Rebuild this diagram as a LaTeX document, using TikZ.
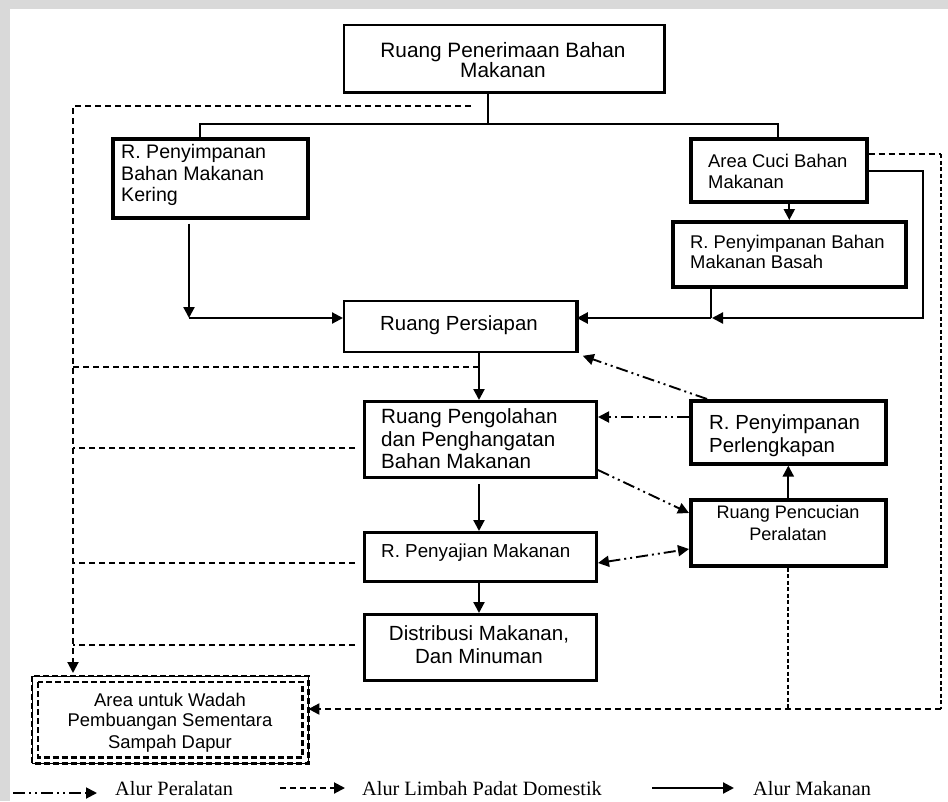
\documentclass[tikz,border=0pt]{standalone}
\usepackage{fontspec}
\setmainfont{Liberation Serif}
\newfontfamily\boxfont{Liberation Sans}
\usetikzlibrary{arrows.meta,calc}
\definecolor{bggray}{RGB}{217,217,217}
\begin{document}
\begin{tikzpicture}[x=1pt,y=-1pt,
  bx/.style={draw, anchor=north west, inner sep=0pt},
  tl/.style={font=\boxfont\fontsize{#1}{#1}\selectfont, inner sep=0pt, anchor=base west},
  tc/.style={font=\boxfont\fontsize{#1}{#1}\selectfont, inner sep=0pt, anchor=base},
  lg/.style={font=\fontsize{20.3}{22}\selectfont, inner sep=0pt, anchor=base west},
  tipA/.style={-{Triangle[length=11pt,width=11pt]}},
  plain/.style={line width=1.6pt},
  food/.style={line width=2.2pt, tipA},
  foodline/.style={line width=2pt},
  waste/.style={line width=2pt, dash pattern=on 6pt off 4pt},
  wastefine/.style={line width=2.2pt, dash pattern=on 4pt off 2.5pt},
  equip/.style={line width=1.9pt, dash pattern=on 12pt off 4pt on 2pt off 4pt on 2pt off 4pt},
  sampahline/.style={line width=2.6pt, dash pattern=on 6pt off 3pt}
]
\fill[bggray] (0,0) rectangle (948,801);
\fill[white] (10,9) rectangle (948,801);
\useasboundingbox (0,0) rectangle (948,801);

% ---------- boxes ----------
\node[bx, line width=1.6pt, minimum width=320pt, minimum height=67pt] (pen) at (343,24) {};
\draw[line width=3.6pt] (pen.north east) -- (pen.south east) -- (pen.south west);
\node[tc=20.8] (penT1) at (503,57) {Ruang Penerimaan Bahan};
\node[tc=20.8] (penT2) at (503,77) {Makanan};

\node[bx, line width=3.6pt, minimum width=195pt, minimum height=79pt] (ker) at (111,137) {};
\node[tl=19.6] (kerT1) at (121,158) {R. Penyimpanan};
\node[tl=19.6] (kerT2) at (121,180) {Bahan Makanan};
\node[tl=19.6] (kerT3) at (121,201) {Kering};

\node[bx, line width=3.6pt, minimum width=176pt, minimum height=63pt] (cuci) at (689,137) {};
\node[tl=18.4] (cuciT1) at (708,167) {Area Cuci Bahan};
\node[tl=18.4] (cuciT2) at (708,188) {Makanan};

\node[bx, line width=3.6pt, minimum width=233pt, minimum height=65pt] (basah) at (671,220) {};
\node[tl=18.4] (basahT1) at (690,248) {R. Penyimpanan Bahan};
\node[tl=18.4] (basahT2) at (690,268) {Makanan Basah};

\node[bx, line width=1.8pt, minimum width=232pt, minimum height=51pt] (pers) at (343,300) {};
\draw[line width=3.6pt] (pers.north east) -- (pers.south east);
\node[tc=20.4] (persT) at (459,330) {Ruang Persiapan};

\node[bx, line width=3pt, minimum width=232pt, minimum height=76pt] (olah) at (363,400) {};
\node[tl=20.6] (olahT1) at (381,423) {Ruang Pengolahan};
\node[tl=20.6] (olahT2) at (381,446) {dan Penghangatan};
\node[tl=20.6] (olahT3) at (381,468) {Bahan Makanan};

\node[bx, line width=3pt, minimum width=232pt, minimum height=49pt] (saji) at (363,531) {};
\node[tl=18.8] (sajiT) at (381,557) {R. Penyajian Makanan};

\node[bx, line width=3pt, minimum width=232pt, minimum height=66pt] (dist) at (363,613) {};
\node[tc=20.5] (distT1) at (479,640) {Distribusi Makanan,};
\node[tc=20.5] (distT2) at (479,663) {Dan Minuman};

\node[bx, line width=3.6pt, minimum width=195pt, minimum height=63pt] (lengkap) at (689,399) {};
\node[tl=20.4] (lengkapT1) at (709,429) {R. Penyimpanan};
\node[tl=20.4] (lengkapT2) at (709,452) {Perlengkapan};

\node[bx, line width=3.6pt, minimum width=195pt, minimum height=66pt] (alat) at (689,498) {};
\node[tc=18.1] (alatT1) at (788,518) {Ruang Pencucian};
\node[tc=18.1] (alatT2) at (788,540) {Peralatan};

\node[bx, minimum width=276pt, minimum height=87pt] (sampah) at (32,676) {};
\draw[sampahline] (sampah.north west) rectangle (sampah.south east);
\draw[sampahline] ($(sampah.north west)+(6,6)$) rectangle ($(sampah.south east)+(-6,-6)$);
\node[tc=18.4] (sampahT1) at (170,706) {Area untuk Wadah};
\node[tc=18.4] (sampahT2) at (170,726) {Pembuangan Sementara};
\node[tc=18.4] (sampahT3) at (170,748) {Sampah Dapur};

% ---------- tree from top box ----------
\coordinate (t1) at (488,124);
\coordinate (t2) at (200,124);
\coordinate (t3) at (778,124);
\draw[plain] (pen.south -| t1) -- (t1);
\draw[plain] (t2 |- ker.north) -- (t2) -- (t3) -- (t3 |- cuci.north);

% ---------- food flow ----------
\coordinate (k1) at (189,318);
\draw[food, shorten <=4pt] (ker.south -| k1) -- (k1);
\draw[food] (k1) -- (pers.west |- k1);
\draw[food] (cuci.south -| basah.north) -- (basah.north);
\coordinate (b1) at (711,318);
\draw[foodline] (basah.south -| b1) -- (b1);
\draw[food] (b1) -- (pers.east |- b1);
\coordinate (r1) at (923,171);
\coordinate (r2) at (923,318);
\draw[food, shorten >=1pt] (cuci.east |- r1) -- (r1) -- (r2) -- (b1);
\coordinate (cx) at (479,0);
\draw[food] (pers.south -| cx) -- (olah.north -| cx);
\draw[food, shorten <=5pt] (olah.south -| cx) -- (saji.north -| cx);
\draw[food] (saji.south -| cx) -- (dist.north -| cx);
\draw[food] (alat.north -| lengkap.south) -- (lengkap.south);

% ---------- waste flow ----------
\coordinate (d0) at (471,106);
\coordinate (d1) at (73,106);
\draw[waste, tipA, shorten >=3pt] (d0) -- (d1) -- (d1 |- sampah.north);
\coordinate (l1) at (73,367);
\draw[waste] (l1) -- (l1 -| cx);
\coordinate (l2) at (73,448);
\draw[waste, shorten <=8pt] (olah.west |- l2) -- (l2);
\coordinate (l3) at (73,563);
\draw[waste, shorten <=8pt] (saji.west |- l3) -- (l3);
\coordinate (l4) at (73,645);
\draw[waste, shorten <=8pt] (dist.west |- l4) -- (l4);
\coordinate (w1) at (941,154);
\coordinate (w2) at (941,709);
\draw[waste] (cuci.east |- w1) -- (w1);
\draw[wastefine] (w1) -- (w2);
\draw[waste, tipA] (w2) -- (sampah.east |- w2);
\draw[wastefine] (alat.south -| alatT1) -- (alatT1 |- w2);

% ---------- equipment flow ----------
\draw[equip, tipA] ($(lengkap.north west)+(18,0)$) -- ($(pers.south east)+(6,3)$);
\coordinate (e2) at (0,417);
\draw[equip, tipA] (lengkap.west |- e2) -- (olah.east |- e2);
\draw[equip, tipA] ($(olah.south east)+(0,-9)$) -- ($(alat.north west)+(0,15)$);
\draw[equip, {Triangle[length=11pt,width=11pt]}-{Triangle[length=11pt,width=11pt]}] ($(saji.north east)+(0,32)$) -- ($(alat.north west)+(0,51)$);

% ---------- legend ----------
\coordinate (lgA1) at (13,793);
\coordinate (lgA2) at (97,793);
\draw[equip, tipA] (lgA1) -- (lgA2);
\node[lg] (lgT1) at (115,795) {Alur Peralatan};
\coordinate (lgB1) at (280,788);
\coordinate (lgB2) at (345,788);
\draw[waste, tipA] (lgB1) -- (lgB2);
\node[lg] (lgT2) at (362,795) {Alur Limbah Padat Domestik};
\coordinate (lgC1) at (652,788);
\coordinate (lgC2) at (734,788);
\draw[food] (lgC1) -- (lgC2);
\node[lg] (lgT3) at (753,795) {Alur Makanan};
\end{tikzpicture}
\end{document}
